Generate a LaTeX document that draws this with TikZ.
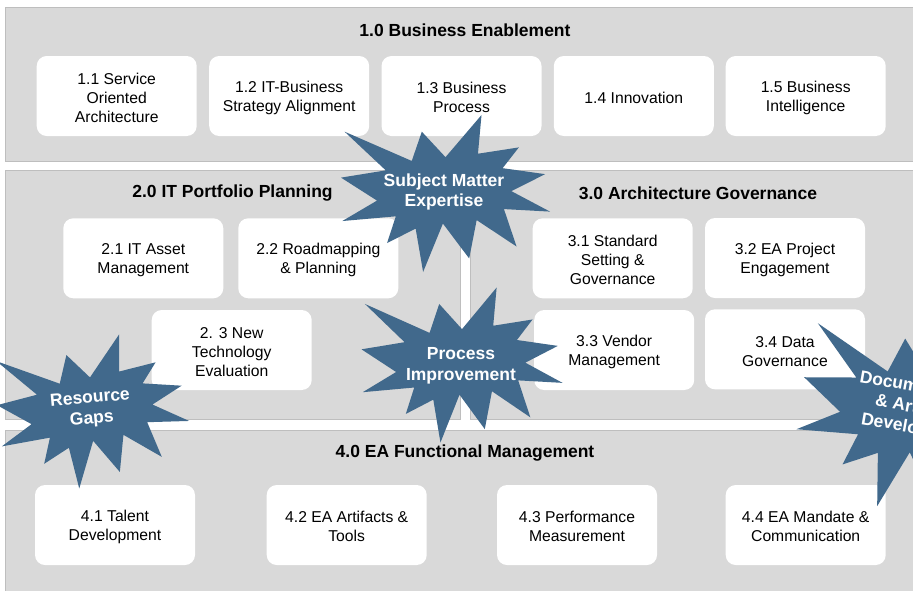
\documentclass[tikz,border=0pt]{standalone}
\usepackage{fontspec}
\setmainfont{Liberation Sans}
\definecolor{panelgray}{RGB}{217,217,217}
\definecolor{panelline}{RGB}{190,190,190}
\definecolor{starblue}{RGB}{65,105,140}
\newcommand\burstshape{\fill[starblue] (0,-0.23148) -- (0.17231,-0.5) -- (0.15532,-0.25347) -- (0.35093,-0.29366) -- (0.27324,-0.16134) -- (0.47671,-0.12329) -- (0.31514,-0.01505) -- (0.5,0.11528) -- (0.27949,0.09917) -- (0.34005,0.33773) -- (0.14907,0.16931) -- (0.11329,0.41375) -- (-0.01241,0.19144) -- (-0.10718,0.5) -- (-0.14282,0.22347) -- (-0.27954,0.31560) -- (-0.23764,0.14523) -- (-0.49375,0.17532) -- (-0.32769,0.04514) -- (-0.5,-0.10116) -- (-0.28579,-0.14736) -- (-0.48287,-0.39375) -- (-0.16148,-0.20741) -- (-0.11333,-0.39375) -- cycle;}
\tikzset{
  panel/.style={fill=panelgray,draw=panelline,line width=1pt},
  box/.style={fill=white,rounded corners=10pt,minimum width=160pt,minimum height=80pt,inner sep=0pt},
  boxtext/.style={align=center,inner sep=0pt,yshift=-1.8pt,font=\fontsize{15.7}{19}\selectfont},
  paneltitle/.style={font=\bfseries\fontsize{17.5}{21}\selectfont,inner sep=0pt},
  burstlabel/.style={text=white,align=center,inner sep=0pt,font=\bfseries\fontsize{17.5}{20.5}\selectfont}
}
\begin{document}
\begin{tikzpicture}[x=1pt,y=-1pt]
\useasboundingbox (0,0) rectangle (913,590);
\clip (0,0) rectangle (913,590);
\fill[white] (0,0) rectangle (913,590);
% panels
\draw[panel] (5,7.5) rectangle (940,161);
\draw[panel] (5,170.5) rectangle (460,419);
\draw[panel] (470.5,170.5) rectangle (940,419);
\draw[panel] (5,430) rectangle (940,610);
% titles
\node[paneltitle] (t1) at (465,30) {1.0 Business Enablement};
\node[paneltitle] (t2) at (232.5,193) {2.0 IT Portfolio Planning};
\node[paneltitle] (t3) at (698,193) {3.0 Architecture Governance};
\node[paneltitle] (t4) at (465,453) {4.0 EA Functional Management};
% boxes
\node[box] (b11) at (116.7,96) {};
\node[box] (b12) at (289.2,96) {};
\node[box] (b13) at (461.5,96) {};
\node[box] (b14) at (633.8,96) {};
\node[box] (b15) at (805.7,96) {};
\node[box] (b21) at (143.3,258.3) {};
\node[box] (b22) at (318.3,258.3) {};
\node[box] (b23) at (231.7,350) {};
\node[box] (b31) at (612.7,258.3) {};
\node[box] (b32) at (785,258) {};
\node[box] (b33) at (614.2,350) {};
\node[box] (b34) at (785,349.3) {};
\node[box] (b41) at (115,525) {};
\node[box] (b42) at (346.7,525) {};
\node[box] (b43) at (577,525) {};
\node[box] (b44) at (805.7,525) {};
\node[boxtext] (b11t) at (b11) {1.1 Service\\Oriented\\Architecture};
\node[boxtext] (b12t) at (b12) {1.2 IT-Business\\Strategy Alignment};
\node[boxtext] (b13t) at (b13) {1.3 Business\\Process};
\node[boxtext] (b14t) at (b14) {1.4 Innovation};
\node[boxtext] (b15t) at (b15) {1.5 Business\\Intelligence};
\node[boxtext] (b21t) at (b21) {2.1 IT Asset\\Management};
\node[boxtext] (b22t) at (b22) {2.2 Roadmapping\\\& Planning};
\node[boxtext] (b23t) at (b23) {2. 3 New\\Technology\\Evaluation};
\node[boxtext] (b31t) at (b31) {3.1 Standard\\Setting \&\\Governance};
\node[boxtext] (b32t) at (b32) {3.2 EA Project\\Engagement};
\node[boxtext] (b33t) at (b33) {3.3 Vendor\\Management};
\node[boxtext] (b34t) at (b34) {3.4 Data\\Governance};
\node[boxtext] (b41t) at (b41) {4.1 Talent\\Development};
\node[boxtext] (b42t) at (b42) {4.2 EA Artifacts \&\\Tools};
\node[boxtext] (b43t) at (b43) {4.3 Performance\\Measurement};
\node[boxtext] (b44t) at (b44) {4.4 EA Mandate \&\\Communication};
% bursts
\begin{scope}[shift={(445.5,193.5)},xscale=209,yscale=157]\burstshape\end{scope}
\begin{scope}[shift={(462,365)},xscale=201,yscale=155]\burstshape\end{scope}
\begin{scope}[shift={(93,412)},rotate=5,xscale=190,yscale=150]\burstshape\end{scope}
\begin{scope}[shift={(919,417)},rotate=-10,xscale=240,yscale=190]\burstshape\end{scope}
\node[burstlabel] (s1) at (444,192) {Subject Matter\\Expertise};
\node[burstlabel] (s2) at (461,366) {Process\\Improvement};
\node[burstlabel,rotate=5] (s3) at (91,409) {Resource\\Gaps};
\node[burstlabel,rotate=-10] (s4) at (919,409) {Documentation\\\& Artifacts\\Development};
\end{tikzpicture}
\end{document}
